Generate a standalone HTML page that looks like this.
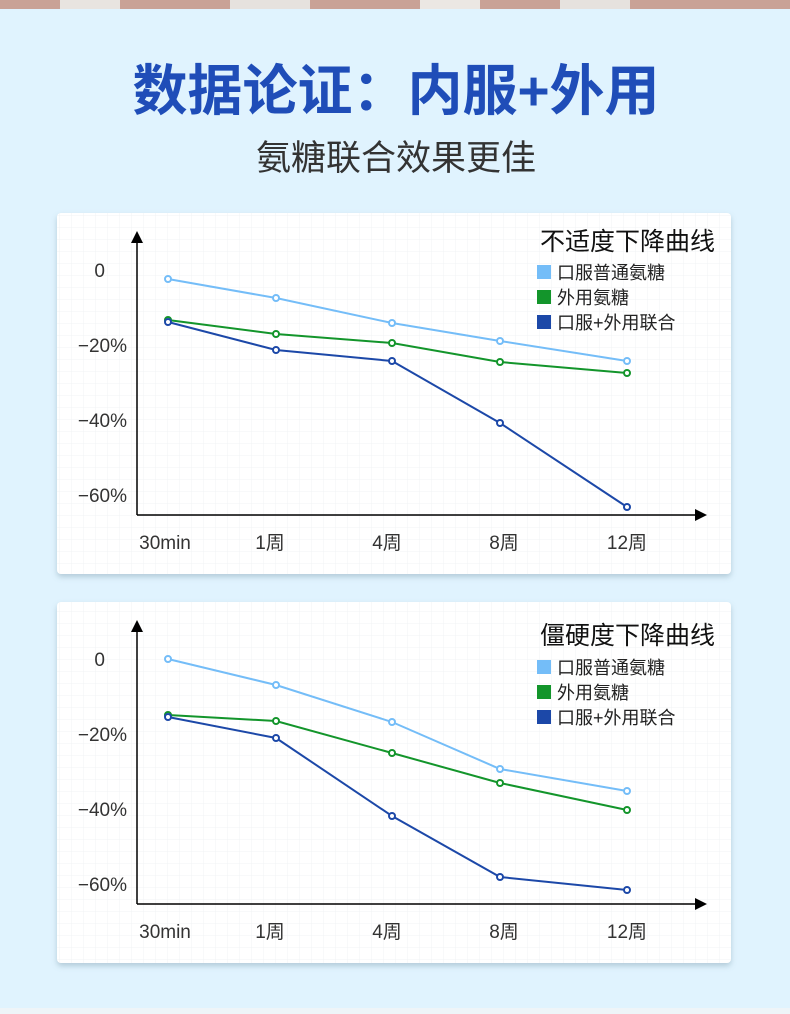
<!DOCTYPE html>
<html><head><meta charset="utf-8"><style>
html,body{margin:0;padding:0;background:#e0f3fe;}
svg{display:block}
text{font-family:"Liberation Sans","Noto Sans CJK SC",sans-serif;}
</style></head><body>
<svg width="790" height="1014" viewBox="0 0 790 1014" xmlns="http://www.w3.org/2000/svg">
<defs>
<pattern id="g" width="12" height="12" patternUnits="userSpaceOnUse">
<path d="M12 0V12M0 12H12" stroke="#f1f3f4" stroke-width="1" fill="none"/>
</pattern>
<filter id="sh" x="-5%" y="-5%" width="110%" height="115%">
<feDropShadow dx="0" dy="3" stdDeviation="3" flood-color="#7a9aac" flood-opacity="0.45"/>
</filter>
</defs>
<rect width="790" height="1014" fill="#e0f3fe"/>
<rect width="790" height="9" fill="#c9a296"/>
<rect x="60" width="60" height="9" fill="#e8e4e0"/>
<rect x="230" width="80" height="9" fill="#e6e2de"/>
<rect x="420" width="60" height="9" fill="#ebe7e3"/>
<rect x="560" width="70" height="9" fill="#e6e2de"/>
<rect y="1008" width="790" height="6" fill="#eef4f8"/>
<text x="396" y="110" text-anchor="middle" font-size="55" font-weight="bold" fill="#1f4db8">数据论证：内服+外用</text>
<text x="396" y="170" text-anchor="middle" font-size="35" fill="#333">氨糖联合效果更佳</text>

<!-- card 1 -->
<g>
<rect x="57" y="213" width="674" height="361" rx="4" fill="#fff" filter="url(#sh)"/>
<rect x="57" y="213" width="674" height="361" rx="4" fill="url(#g)"/>
<line x1="137" y1="242" x2="137" y2="515" stroke="#000" stroke-width="1.5"/>
<polygon points="137,231 131,243 143,243" fill="#000"/>
<line x1="137" y1="515" x2="696" y2="515" stroke="#000" stroke-width="1.5"/>
<polygon points="707,515 695,509 695,521" fill="#000"/>
<g font-size="19" fill="#333" text-anchor="end">
<text x="105" y="277">0</text><text x="127" y="352">−20%</text><text x="127" y="427">−40%</text><text x="127" y="502">−60%</text>
</g>
<g font-size="19" fill="#333" text-anchor="middle">
<text x="165" y="549">30min</text><text x="270" y="549">1周</text><text x="387" y="549">4周</text><text x="504" y="549">8周</text><text x="627" y="549">12周</text>
</g>
<text x="715" y="250" text-anchor="end" font-size="25" fill="#111">不适度下降曲线</text>
<rect x="537" y="265" width="14" height="14" fill="#74bdf8"/>
<rect x="537" y="290" width="14" height="14" fill="#13952b"/>
<rect x="537" y="315" width="14" height="14" fill="#1c48a8"/>
<g font-size="18" fill="#222"><text x="557" y="279">口服普通氨糖</text><text x="557" y="304">外用氨糖</text><text x="557" y="329">口服+外用联合</text></g>
<g fill="#fff" stroke-width="2">
<polyline points="168,279 276,298 392,323 500,341 627,361" stroke="#74bdf8" fill="none"/>
<polyline points="168,320 276,334 392,343 500,362 627,373" stroke="#13952b" fill="none"/>
<polyline points="168,322 276,350 392,361 500,423 627,507" stroke="#1c48a8" fill="none"/>
<g stroke="#74bdf8"><circle cx="168" cy="279" r="3"/><circle cx="276" cy="298" r="3"/><circle cx="392" cy="323" r="3"/><circle cx="500" cy="341" r="3"/><circle cx="627" cy="361" r="3"/></g>
<g stroke="#13952b"><circle cx="168" cy="320" r="3"/><circle cx="276" cy="334" r="3"/><circle cx="392" cy="343" r="3"/><circle cx="500" cy="362" r="3"/><circle cx="627" cy="373" r="3"/></g>
<g stroke="#1c48a8"><circle cx="168" cy="322" r="3"/><circle cx="276" cy="350" r="3"/><circle cx="392" cy="361" r="3"/><circle cx="500" cy="423" r="3"/><circle cx="627" cy="507" r="3"/></g>
</g>
</g>

<!-- card 2 -->
<g>
<rect x="57" y="602" width="674" height="361" rx="4" fill="#fff" filter="url(#sh)"/>
<rect x="57" y="602" width="674" height="361" rx="4" fill="url(#g)"/>
<line x1="137" y1="631" x2="137" y2="904" stroke="#000" stroke-width="1.5"/>
<polygon points="137,620 131,632 143,632" fill="#000"/>
<line x1="137" y1="904" x2="696" y2="904" stroke="#000" stroke-width="1.5"/>
<polygon points="707,904 695,898 695,910" fill="#000"/>
<g font-size="19" fill="#333" text-anchor="end">
<text x="105" y="666">0</text><text x="127" y="741">−20%</text><text x="127" y="816">−40%</text><text x="127" y="891">−60%</text>
</g>
<g font-size="19" fill="#333" text-anchor="middle">
<text x="165" y="938">30min</text><text x="270" y="938">1周</text><text x="387" y="938">4周</text><text x="504" y="938">8周</text><text x="627" y="938">12周</text>
</g>
<text x="715" y="644" text-anchor="end" font-size="25" fill="#111">僵硬度下降曲线</text>
<rect x="537" y="660" width="14" height="14" fill="#74bdf8"/>
<rect x="537" y="685" width="14" height="14" fill="#13952b"/>
<rect x="537" y="710" width="14" height="14" fill="#1c48a8"/>
<g font-size="18" fill="#222"><text x="557" y="674">口服普通氨糖</text><text x="557" y="699">外用氨糖</text><text x="557" y="724">口服+外用联合</text></g>
<g fill="#fff" stroke-width="2">
<polyline points="168,659 276,685 392,722 500,769 627,791" stroke="#74bdf8" fill="none"/>
<polyline points="168,715 276,721 392,753 500,783 627,810" stroke="#13952b" fill="none"/>
<polyline points="168,717 276,738 392,816 500,877 627,890" stroke="#1c48a8" fill="none"/>
<g stroke="#74bdf8"><circle cx="168" cy="659" r="3"/><circle cx="276" cy="685" r="3"/><circle cx="392" cy="722" r="3"/><circle cx="500" cy="769" r="3"/><circle cx="627" cy="791" r="3"/></g>
<g stroke="#13952b"><circle cx="168" cy="715" r="3"/><circle cx="276" cy="721" r="3"/><circle cx="392" cy="753" r="3"/><circle cx="500" cy="783" r="3"/><circle cx="627" cy="810" r="3"/></g>
<g stroke="#1c48a8"><circle cx="168" cy="717" r="3"/><circle cx="276" cy="738" r="3"/><circle cx="392" cy="816" r="3"/><circle cx="500" cy="877" r="3"/><circle cx="627" cy="890" r="3"/></g>
</g>
</g>
</svg>
</body></html>
